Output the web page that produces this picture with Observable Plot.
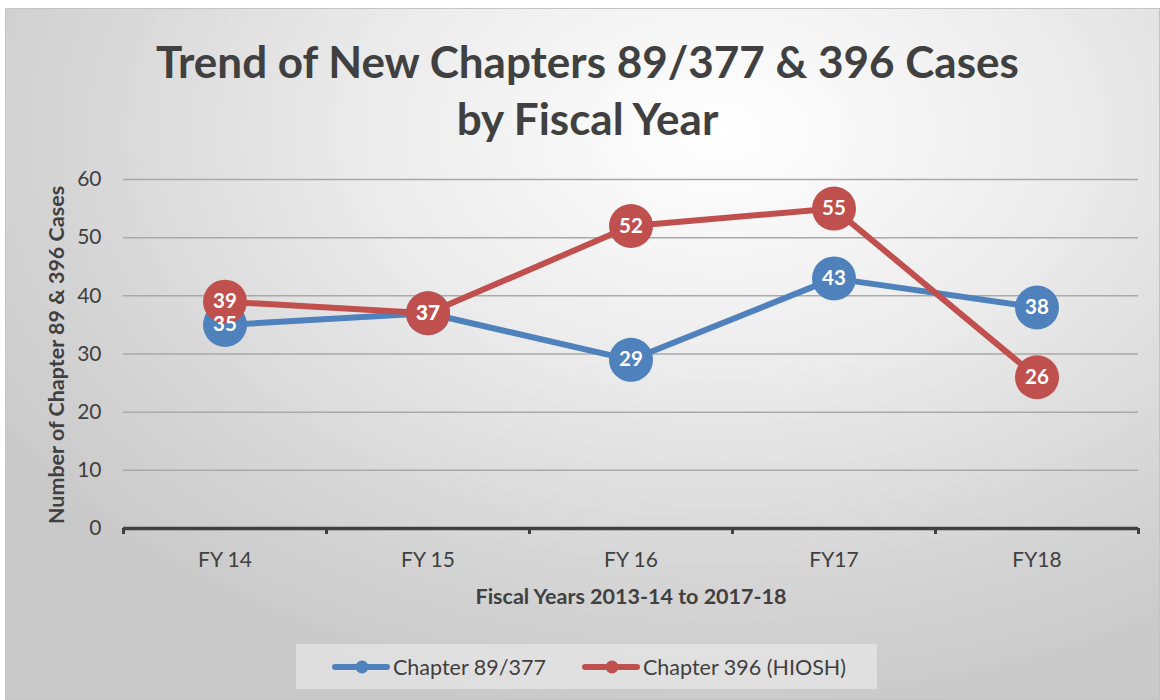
<!DOCTYPE html>
<html>
<head>
<meta charset="utf-8">
<script src="https://cdn.jsdelivr.net/npm/d3@7"></script>
<script src="https://cdn.jsdelivr.net/npm/@observablehq/plot@0.6"></script>
<style>
  body { margin: 0; background: #fff; font-family: Lato, "Open Sans", sans-serif; }
  #wrap { position: relative; width: 1160px; height: 700px; overflow: hidden; background: #fff; }
  #frame { position: absolute; left: 5px; top: 8px; width: 1153px; height: 690px; border: 1px solid #c4c4c4;
    background: radial-gradient(ellipse 75% 85% at 62% 18%, #ffffff 0%, #ececec 40%, #d6d6d6 75%, #c9c9c9 100%); }
  #title { position: absolute; left: 0; width: 1175px; top: 33px; text-align: center; font-weight: 700; font-size: 44px; line-height: 57px; color: #404040; }
  #plot { position: absolute; left: 0; top: 150px; }
  #ylabel { position: absolute; left: 56px; top: 355px; transform: translate(-50%, -50%) rotate(-90deg); white-space: nowrap; font-weight: 700; font-size: 21.5px; color: #404040; }
  #legend { position: absolute; left: 296px; top: 644px; width: 581px; height: 45px; background: rgba(236,236,236,0.6); font-size: 21.5px; color: #404040; }
  .item { position: absolute; top: 0; height: 45px; display: flex; align-items: center; white-space: nowrap; }
  .item svg { display: block; }
</style>
</head>
<body>
<div id="wrap">
  <div id="frame"></div>
  <div id="title">Trend of New Chapters 89/377 &amp; 396 Cases<br>by Fiscal Year</div>
  <div id="plot"></div>
  <div id="ylabel">Number of Chapter 89 &amp; 396 Cases</div>
  <div id="legend"></div>
</div>
<script>
const categories = ["FY 14", "FY 15", "FY 16", "FY17", "FY18"];
const chapter89 = [35, 37, 29, 43, 38];
const chapter396 = [39, 37, 52, 55, 26];
const seriesNames = ["Chapter 89/377", "Chapter 396 (HIOSH)"];
const colors = ["#4F81BD", "#C0504D"];
const yTicks = [0, 10, 20, 30, 40, 50, 60];
const xTitle = "Fiscal Years 2013-14 to 2017-18";

const s1 = categories.map((c, i) => ({i, cat: c, v: chapter89[i]}));
const s2 = categories.map((c, i) => ({i, cat: c, v: chapter396[i]}));
const pos = d => d.i + 0.5;
const fg = "#404040";

const chart = Plot.plot({
  width: 1160,
  height: 470,
  marginTop: 29,
  marginBottom: 92,
  marginLeft: 123,
  marginRight: 22,
  style: {background: "transparent", fontFamily: "Lato, 'Open Sans', sans-serif", overflow: "visible"},
  x: {domain: [0, categories.length], axis: null},
  y: {domain: [0, 60], axis: null},
  marks: [
    Plot.gridY(yTicks.filter(t => t > 0), {stroke: "#a9a9a9", strokeOpacity: 1, strokeWidth: 1.5}),
    Plot.axisY(yTicks, {tickSize: 0, tickPadding: 22, fontSize: 21, fill: fg, label: null}),
    Plot.axisX(d3.range(categories.length + 1), {tickSize: 6, tickFormat: () => "", stroke: fg, strokeWidth: 3, label: null}),
    Plot.ruleY([0], {stroke: fg, strokeWidth: 3.5}),
    Plot.text(categories, {x: (d, i) => i + 0.5, y: 0, dy: 32, text: d => d, fontSize: 21, fill: fg}),
    Plot.text([xTitle], {x: categories.length / 2, y: 0, dy: 69, text: d => d, fontSize: 21.5, fontWeight: "bold", fill: fg}),
    Plot.line(s1, {x: pos, y: "v", stroke: colors[0], strokeWidth: 6}),
    Plot.dot(s1, {x: pos, y: "v", r: 22, fill: colors[0]}),
    Plot.line(s2, {x: pos, y: "v", stroke: colors[1], strokeWidth: 6}),
    Plot.dot(s2, {x: pos, y: "v", r: 22, fill: colors[1]}),
    Plot.text(s1, {x: pos, y: "v", text: d => String(d.v), fill: "white", fontWeight: "bold", fontSize: 20.5}),
    Plot.text(s2, {x: pos, y: "v", text: d => String(d.v), fill: "white", fontWeight: "bold", fontSize: 20.5})
  ]
});
document.getElementById("plot").appendChild(chart);

const legend = document.getElementById("legend");
const itemLeft = [35, 285];
seriesNames.forEach((name, k) => {
  const item = document.createElement("div");
  item.className = "item";
  item.style.left = itemLeft[k] + "px";
  item.innerHTML = `<svg width="60" height="16"><line x1="4" y1="8" x2="56" y2="8" stroke="${colors[k]}" stroke-width="6" stroke-linecap="round"/><circle cx="31" cy="8" r="6.5" fill="${colors[k]}"/></svg><span style="margin-left:2px">${name}</span>`;
  legend.appendChild(item);
});
</script>
</body>
</html>
